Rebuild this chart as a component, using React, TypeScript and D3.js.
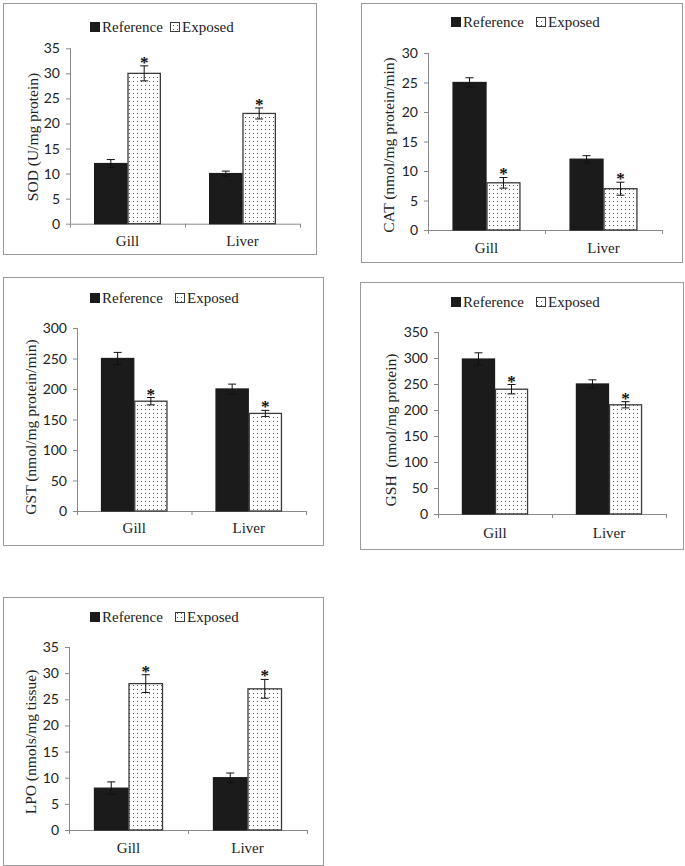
import React from 'react';
import * as d3 from 'd3';

const categories = ['Gill', 'Liver'];
const seriesNames = ['Reference', 'Exposed'];

const sodReference = [12, 10];
const sodExposed = [30, 22];
const sodReferenceErr = [0.8, 0.5];
const sodExposedErr = [1.5, 1.1];

const catReference = [25, 12];
const catExposed = [8, 7];
const catReferenceErr = [0.8, 0.6];
const catExposedErr = [0.9, 1.1];

const gstReference = [250, 200];
const gstExposed = [180, 160];
const gstReferenceErr = [10, 8];
const gstExposedErr = [6, 5];

const gshReference = [298, 250];
const gshExposed = [240, 210];
const gshReferenceErr = [12, 8];
const gshExposedErr = [9, 6];

const lpoReference = [8, 10];
const lpoExposed = [28, 27];
const lpoReferenceErr = [1.2, 0.9];
const lpoExposedErr = [1.7, 1.8];

const yLabels = [
  'SOD (U/mg protein)',
  'CAT (nmol/mg protein/min)',
  'GST (nmol/mg protein/min)',
  'GSH  (nmol/mg protein)',
  'LPO (nmols/mg tissue)',
];
const yMaxes = [35, 30, 300, 350, 35];
const ySteps = [5, 5, 50, 50, 5];

const layouts = [
  { box: [3, 3, 313, 251], x0: 70, x1: 300, yTop: 48.3, yBot: 223.7, legY: 27, legX: 90, legX2: 170, catY: 241, labX: 32, labY: 137 },
  { box: [361, 3, 321, 259], x0: 428, x1: 662, yTop: 53, yBot: 230, legY: 22, legX: 451, legX2: 536, catY: 248, labX: 388, labY: 145 },
  { box: [3, 277, 320, 268], x0: 77, x1: 306, yTop: 328, yBot: 511, legY: 298, legX: 90, legX2: 175, catY: 528, labX: 30, labY: 427 },
  { box: [360, 282, 323, 267], x0: 438, x1: 666, yTop: 332, yBot: 514, legY: 302, legX: 451, legX2: 536, catY: 533, labX: 390, labY: 430 },
  { box: [3, 597, 320, 268], x0: 69, x1: 307, yTop: 647, yBot: 830, legY: 617, legX: 90, legX2: 175, catY: 848, labX: 30, labY: 742 },
];

const SERIF = '"Liberation Serif", "Times New Roman", serif';
const SANS = 'Lato, "Liberation Sans", sans-serif';

function Panel({ L, label, refVals, expVals, refErr, expErr, max, step }: any) {
  const y = d3.scaleLinear().domain([0, max]).range([L.yBot, L.yTop]);
  const x = d3.scaleBand().domain(categories).range([L.x0, L.x1]).paddingInner(0.42).paddingOuter(0.21);
  const xs = d3.scaleBand().domain(seriesNames).range([0, x.bandwidth()]);
  const ticks = d3.range(0, max + step / 2, step);
  const series = [
    { name: seriesNames[0], vals: refVals, errs: refErr, fill: '#1b1b1b', stroke: '#1b1b1b', star: false },
    { name: seriesNames[1], vals: expVals, errs: expErr, fill: 'url(#dots)', stroke: '#3a3a3a', star: true },
  ];
  const [bx, by, bw, bh] = L.box;
  const mid = (L.x0 + L.x1) / 2;
  return (
    <g>
      <rect x={bx + 0.5} y={by + 0.5} width={bw} height={bh} fill="white" stroke="#9a9a9a" strokeWidth={1} />
      <rect x={L.legX} y={L.legY - 5} width={10} height={10} fill="#1b1b1b" />
      <text x={L.legX + 12} y={L.legY + 5} fontFamily={SERIF} fontSize={15} fill="#222">{seriesNames[0]}</text>
      <rect x={L.legX2 + 0.5} y={L.legY - 4.5} width={9} height={9} fill="url(#dots)" stroke="#3a3a3a" strokeWidth={1} />
      <text x={L.legX2 + 12} y={L.legY + 5} fontFamily={SERIF} fontSize={15} fill="#222">{seriesNames[1]}</text>
      <line x1={L.x0 + 0.5} x2={L.x0 + 0.5} y1={L.yTop} y2={L.yBot} stroke="#8a8a8a" />
      {ticks.map((t: number) => (
        <g key={t}>
          <line x1={L.x0 - 4} x2={L.x0 + 0.5} y1={y(t) + 0.5} y2={y(t) + 0.5} stroke="#8a8a8a" />
          <text x={L.x0 - 10} y={y(t) + 5} textAnchor="end" fontFamily={SANS} fontSize={14} fill="#222">{t}</text>
        </g>
      ))}
      <line x1={L.x0} x2={L.x1} y1={L.yBot + 0.5} y2={L.yBot + 0.5} stroke="#8a8a8a" />
      {[L.x0, mid, L.x1].map((t: number, i: number) => (
        <line key={i} x1={t + 0.5} x2={t + 0.5} y1={L.yBot} y2={L.yBot + 4} stroke="#8a8a8a" />
      ))}
      {categories.map((c) => (
        <text key={c} x={(x(c) as number) + x.bandwidth() / 2} y={L.catY + 5} textAnchor="middle" fontFamily={SERIF} fontSize={15} fill="#222">{c}</text>
      ))}
      {series.map((s) =>
        categories.map((c, i) => {
          const bx0 = (x(c) as number) + (xs(s.name) as number);
          const v = s.vals[i];
          const e = s.errs[i];
          const cx = bx0 + xs.bandwidth() / 2;
          return (
            <g key={s.name + c}>
              <rect x={bx0 + 0.5} y={y(v)} width={xs.bandwidth() - 1} height={L.yBot - y(v)} fill={s.fill} stroke={s.stroke} strokeWidth={1.3} />
              <line x1={cx} x2={cx} y1={y(v + e)} y2={y(v - e)} stroke="#111" strokeWidth={1} />
              <line x1={cx - 4} x2={cx + 4} y1={y(v + e)} y2={y(v + e)} stroke="#111" strokeWidth={1} />
              <line x1={cx - 4} x2={cx + 4} y1={y(v - e)} y2={y(v - e)} stroke="#111" strokeWidth={1} />
              {s.star && (
                <text x={cx} y={y(v + e) + 2} textAnchor="middle" fontFamily={SERIF} fontSize={17} fontWeight="bold" fill="#111">*</text>
              )}
            </g>
          );
        })
      )}
      <text
        transform={`translate(${L.labX},${L.labY}) rotate(-90)`}
        textAnchor="middle"
        dominantBaseline="central"
        fontFamily={SERIF}
        fontSize={15.5}
        fill="#222"
        style={{ whiteSpace: 'pre' }}
      >
        {label}
      </text>
    </g>
  );
}

export default function App() {
  const data = [
    [sodReference, sodExposed, sodReferenceErr, sodExposedErr],
    [catReference, catExposed, catReferenceErr, catExposedErr],
    [gstReference, gstExposed, gstReferenceErr, gstExposedErr],
    [gshReference, gshExposed, gshReferenceErr, gshExposedErr],
    [lpoReference, lpoExposed, lpoReferenceErr, lpoExposedErr],
  ];
  return (
    <svg width={685} height={866} style={{ position: 'absolute', left: 0, top: 0, background: 'white' }}>
      <defs>
        <pattern id="dots" width={4} height={4} patternUnits="userSpaceOnUse">
          <rect width={4} height={4} fill="white" />
          <rect x={1} y={1} width={1} height={1} fill="#555" />
        </pattern>
      </defs>
      <rect width={685} height={866} fill="white" />
      {layouts.map((L, i) => (
        <Panel
          key={i}
          L={L}
          label={yLabels[i]}
          refVals={data[i][0]}
          expVals={data[i][1]}
          refErr={data[i][2]}
          expErr={data[i][3]}
          max={yMaxes[i]}
          step={ySteps[i]}
        />
      ))}
    </svg>
  );
}
